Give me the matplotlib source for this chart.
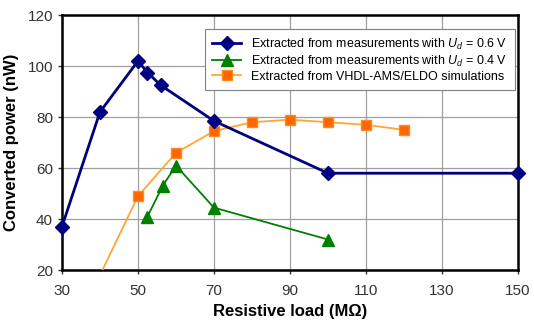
import matplotlib.pyplot as plt

plt.rcParams['font.family'] = ['Liberation Sans', 'DejaVu Sans']
plt.rcParams['mathtext.fontset'] = 'custom'
plt.rcParams['mathtext.it'] = 'Liberation Sans:italic'
plt.rcParams['mathtext.rm'] = 'Liberation Sans'

# data
x_06 = [30, 40, 50, 52.5, 56, 70, 100, 150]
p_06 = [37, 82, 102, 97.5, 92.5, 78.5, 58, 58]

x_04 = [52.5, 56.5, 60, 70, 100]
p_04 = [41, 53, 61, 44.5, 32]

x_sim = [40, 50, 60, 70, 80, 90, 100, 110, 120]
p_sim = [18, 49, 66, 74.5, 78, 79, 78, 77, 75]

fig = plt.figure(figsize=(5.34, 3.29), dpi=100)
ax = fig.add_axes([0.116, 0.179, 0.854, 0.775])

ax.plot(x_06, p_06, color='#000080', lw=2, marker='D', ms=7.5,
        label=r'Extracted from measurements with $U_d$ = 0.6 V', zorder=4,
        clip_on=False)
ax.plot(x_04, p_04, color='#008000', lw=1.3, marker='^', ms=8,
        label=r'Extracted from measurements with $U_d$ = 0.4 V', zorder=3)
ax.plot(x_sim, p_sim, color='#FFA733', lw=1.3, marker='s', ms=7.5,
        markerfacecolor='#FF6600', markeredgecolor='#FF8A1F',
        markevery=slice(1, None),
        label='Extracted from VHDL-AMS/ELDO simulations', zorder=3)

ax.set_xlim(30, 150)
ax.set_ylim(20, 120)
ax.set_xticks(range(30, 151, 20))
ax.set_yticks(range(20, 121, 20))
ax.grid(True, color='#A0A0A0', lw=0.9)
ax.set_axisbelow(True)
for s in ax.spines.values():
    s.set_linewidth(1.8)
    s.set_color('black')
ax.tick_params(labelsize=11, colors='#333333', length=3, width=1)
ax.tick_params(axis='x', pad=7)

ax.set_xlabel('Resistive load (M\u03a9)', fontsize=12, fontweight='bold', labelpad=4)
ax.set_ylabel('Converted power (nW)', fontsize=12, fontweight='bold', labelpad=6)

leg = ax.legend(loc='upper right', fontsize=9, frameon=True, fancybox=False,
                edgecolor='#808080', framealpha=1, handlelength=2.3,
                borderpad=0.6, labelspacing=0.15, borderaxespad=0,
                bbox_to_anchor=(0.993, 0.945))
leg.get_frame().set_linewidth(0.8)

fig.savefig('out.png', dpi=100)
